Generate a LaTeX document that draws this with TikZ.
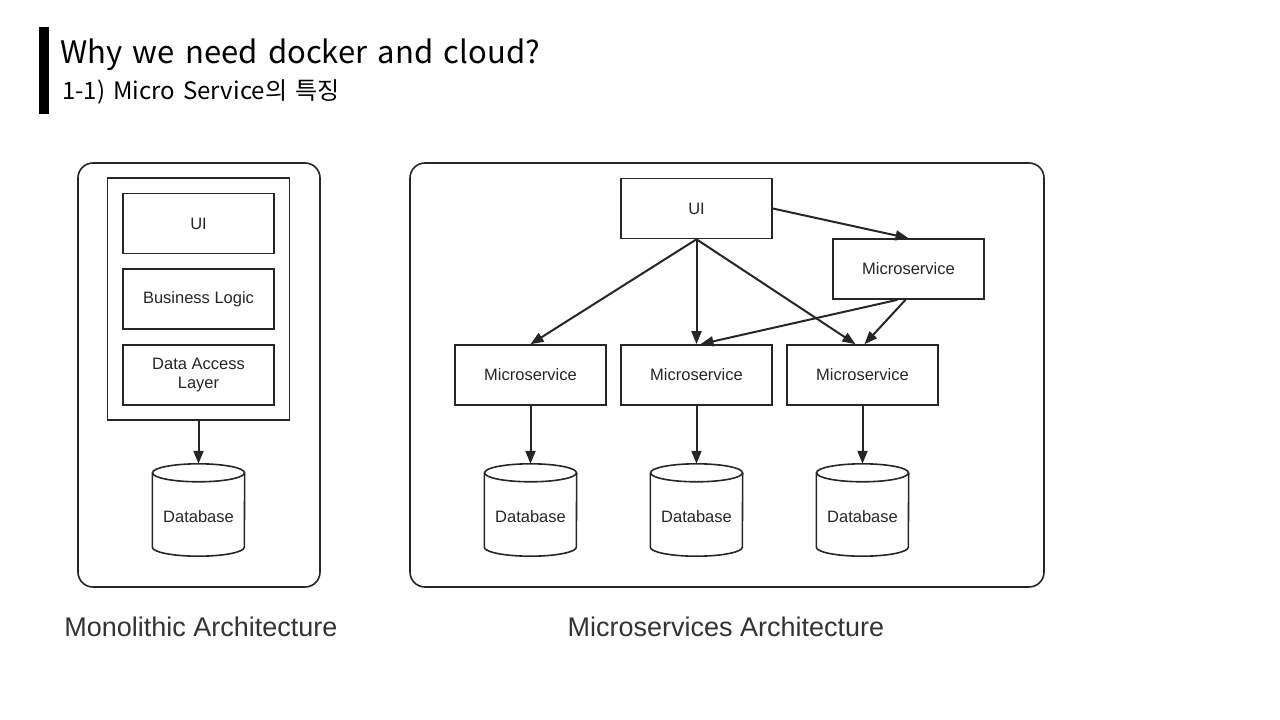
\documentclass[tikz,border=0pt]{standalone}
\usepackage{fontspec}
\setmainfont{Liberation Sans}
\newfontfamily\kr[WordSpace=1.5]{Noto Sans CJK KR}
\usetikzlibrary{arrows.meta,calc}
\newcommand\dbcyl[1]{%
  \draw[cylline] ($(#1.north west)+(0,9)$) -- ($(#1.south west)+(0,-9)$)
     arc[start angle=180,end angle=0,x radius=46,y radius=9] -- ($(#1.north east)+(0,9)$);
  \draw[cylline] ($(#1.north)+(0,9)$) ellipse[x radius=46,y radius=9];}
\begin{document}
\begin{tikzpicture}[x=1pt,y=-1pt,
  lin/.style={draw=black!85,line width=1.6pt},
  cylline/.style={draw=black!85,line width=1.6pt},
  box/.style={lin,minimum width=151pt,minimum height=60pt,inner sep=0pt,
    font=\fontsize{16.5}{19}\selectfont,align=center,text=black!85},
  frame/.style={lin,rounded corners=15pt,inner sep=0pt},
  dbnode/.style={minimum width=92pt,minimum height=92pt,inner sep=0pt,
    font=\fontsize{16.5}{19}\selectfont,text=black!85},
  arr/.style={draw=black!85,line width=2pt,-{Triangle[length=13pt,width=10pt]}},
  caption/.style={text=black!80,font=\fontsize{27}{32}\selectfont}]
\useasboundingbox (0,0) rectangle (1280,720);
\fill[black] (39,27) rectangle (49,114);
\node[anchor=base west,inner sep=0pt,font=\kr\fontsize{31}{37}\selectfont] (title) at (60,63) {Why we need docker and cloud?};
\node[anchor=base west,inner sep=0pt,font=\kr\fontsize{24}{29}\selectfont] (sub) at (62,99) {1-1) Micro Service의 특징};
% monolithic
\node[frame,minimum width=242pt,minimum height=424pt] (mono) at (199,375) {};
\node[lin,minimum width=182pt,minimum height=242pt,inner sep=0pt] (monoin) at (198.5,299) {};
\node[box] (ui1) at (198.5,223.5) {UI};
\node[box] (bl) at (198.5,299) {Business Logic};
\node[box] (dal) at (198.5,375) {Data Access\\Layer};
\node[dbnode] (db0) at (198.5,510) {};
\dbcyl{db0}
\node[dbnode] (db0t) at ($(db0)+(0,7)$) {Database};
\draw[arr] (monoin.south) -- (db0.north);
\node[caption] (cap1) at (201,627) {Monolithic Architecture};
% microservices
\node[frame,minimum width=634pt,minimum height=424pt] (micro) at (727,375) {};
\node[box] (ui2) at (696.5,208.5) {UI};
\node[box] (ms0) at (908.5,269) {Microservice};
\node[box] (ms1) at (530.5,375) {Microservice};
\node[box] (ms2) at (696.5,375) {Microservice};
\node[box] (ms3) at (862.5,375) {Microservice};
\foreach \n/\x in {db1/530.5,db2/696.5,db3/862.5}{
  \node[dbnode] (\n) at (\x,510) {};
  \dbcyl{\n}
  \node[dbnode] (\n t) at ($(\n)+(0,7)$) {Database};
}
\draw[arr] (ui2.east) -- (ms0.north);
\draw[arr] (ui2.south) -- (ms1.north);
\draw[arr] (ui2.south) -- (ms2.north);
\draw[arr] (ui2.south) -- ($(ms3.north)+(-7,0)$);
\draw[arr] ($(ms0.south)+(-11,0)$) -- ($(ms2.north)+(4,0)$);
\draw[arr] ($(ms0.south)+(-3,0)$) -- ($(ms3.north)+(2,0)$);
\draw[arr] (ms1.south) -- (db1.north);
\draw[arr] (ms2.south) -- (db2.north);
\draw[arr] (ms3.south) -- (db3.north);
\node[caption] (cap2) at (726,627) {Microservices Architecture};
\end{tikzpicture}
\end{document}
